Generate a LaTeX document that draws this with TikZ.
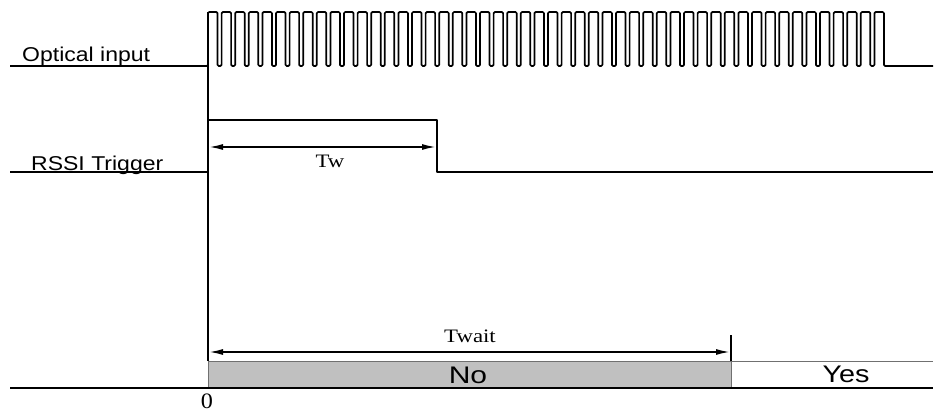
\documentclass[tikz,border=0pt]{standalone}
\usepackage{fontspec}
\usepackage{graphicx}
\setmainfont{Liberation Serif}
\setsansfont{Liberation Sans}
\usetikzlibrary{arrows.meta}
\definecolor{boxgray}{HTML}{C0C0C0}
\definecolor{edgegray}{HTML}{707070}
\begin{document}
\begin{tikzpicture}[x=1pt,y=-1pt,
  sig/.style={line width=1.7pt, line join=round},
  dimarrow/.style={line width=1.7pt, {Latex[length=14pt,width=6pt]}-{Latex[length=14pt,width=6pt]}},
  sanslbl/.style={font=\sffamily\fontsize{20}{22}\selectfont, inner sep=0pt, anchor=base west},
  serlbl/.style={font=\rmfamily\fontsize{19}{21}\selectfont, inner sep=0pt},
  boxlbl/.style={font=\sffamily\fontsize{24}{26}\selectfont, inner sep=0pt}
]
\useasboundingbox (0,0) rectangle (936,412);

% Optical input
\node[sanslbl] (optlbl) at (22,61) {\scalebox{1.15}[1]{Optical input}};
\draw[sig, rounded corners=1.2pt] (10,66) -- (208,66)
  foreach \i in {0,...,49} { -- ({208+13.6*\i},12) -- ({208+13.6*\i+9.5},12) -- ({208+13.6*\i+9.5},66) -- ({208+13.6*(\i+1)},66) } -- (933,66);

% zero line
\coordinate (z0) at (208,12);
\coordinate (z1) at (208,361);
\draw[sig] (z0) -- (z1);

% RSSI trigger
\node[sanslbl] (rssilbl) at (31,170) {\scalebox{1.15}[1]{RSSI Trigger}};
\draw[sig] (10,172) -- (208,172);
\draw[sig] (208,120) -- (437,120) -- (437,172) -- (933,172);
\coordinate (twa) at (209,147);
\coordinate (twb) at (436,147);
\draw[dimarrow] (twa) -- (twb);
\node[serlbl] (tw) at (330,161) {\scalebox{1.2}[1]{Tw}};

% bottom bar
\draw[fill=boxgray, draw=edgegray, line width=1pt] (208,361) rectangle (731,388);
\draw[edgegray, line width=1pt] (731,361) -- (933,361);
\draw[sig] (10,388) -- (933,388);
\coordinate (tv0) at (731,335);
\coordinate (tv1) at (731,361);
\draw[sig] (tv0) -- (tv1);
\coordinate (twaita) at (209,352);
\coordinate (twaitb) at (730,352);
\draw[dimarrow] (twaita) -- (twaitb);
\node[serlbl] (twait) at (470,336) {\scalebox{1.2}[1]{Twait}};
\node[boxlbl] (no) at (468,375) {\scalebox{1.25}[1]{No}};
\node[boxlbl] (yes) at (846,374) {\scalebox{1.2}[1]{Yes}};
\node[serlbl, font=\rmfamily\fontsize{22}{24}\selectfont] (zero) at (207,401) {\scalebox{1.1}[1]{0}};
\end{tikzpicture}
\end{document}
